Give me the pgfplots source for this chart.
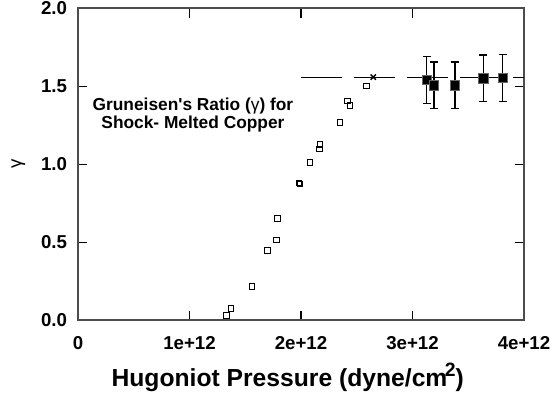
\documentclass[border=0pt]{standalone}
\usepackage{fontspec}
\setmainfont{Liberation Sans}[Ligatures=TeXOff]
\usepackage{pgfplots}
\pgfplotsset{compat=1.18}
\begin{document}
\begin{tikzpicture}
\path[use as bounding box] (-58.5pt,-58.5pt) rectangle (361.5pt,240pt);
\begin{axis}[
  at={(0,0)}, anchor=south west,
  scale only axis, width=334.5pt, height=233.8pt,
  xmin=0, xmax=4, ymin=0, ymax=2,
  xtick={0,1,2,3,4}, xticklabels={0,1e+12,2e+12,3e+12,4e+12},
  ytick={0,0.5,1,1.5,2}, yticklabels={0.0,0.5,1.0,1.5,2.0},
  tick align=inside, major tick length=7pt,
  tick style={black, line width=0.8pt},
  axis line style={black!70, line width=1.2pt},
  xticklabel style={font=\fontsize{14}{14}\selectfont\bfseries, anchor=north, inner sep=0pt, yshift=-12pt},
  yticklabel style={font=\fontsize{14}{14}\selectfont\bfseries, anchor=east, inner sep=0pt, xshift=-8pt},
  xlabel={Hugoniot Pressure (dyne/cm\kern-2pt\raisebox{7.5pt}{\fontsize{14.5}{14.5}\selectfont 2})},
  xlabel style={font=\fontsize{18.5}{18.5}\selectfont\bfseries, at={(axis description cs:0.5,0)}, anchor=base, yshift=-50pt, xshift=-10pt, inner sep=0pt},
  ylabel={γ},
  every axis y label/.style={font=\fontsize{14}{14}\selectfont, at={(axis description cs:-0.1334,0.5)}, rotate=90, anchor=center, inner sep=0pt},
  clip=false,
]
\addplot[black, line width=0.8pt, dash pattern=on 30.75pt off 9pt] coordinates {(2,1.555) (4,1.555)};
\addplot[only marks, mark=square, mark size=2.1pt, mark options={line width=0.7pt, black}] coordinates {
(1.334,0.028) (1.372,0.073) (1.561,0.214) (1.698,0.447) (1.778,0.513) (1.791,0.650)
(1.982,0.879) (1.991,0.873) (2.081,1.010) (2.164,1.096) (2.170,1.125) (2.350,1.266)
(2.415,1.404) (2.439,1.375) (2.589,1.502)};
\addplot[only marks, mark=x, mark size=2.8pt, mark options={line width=1pt, black}] coordinates {(2.648,1.558)};
\addplot[only marks, mark=square*, mark size=3.6pt, mark options={fill=black, draw=black!60, line width=0.5pt},
  error bars/.cd, y dir=both, y explicit,
  error bar style={line width=1pt, black},
  error mark options={rotate=90, mark size=3pt, line width=1pt, black}]
  coordinates {
(3.127,1.540) +- (0,0.15)
(3.193,1.505) +- (0,0.15)
(3.381,1.505) +- (0,0.15)
(3.635,1.550) +- (0,0.15)
(3.809,1.553) +- (0,0.15)};
\node[font=\fontsize{13}{13}\selectfont\bfseries, anchor=base, inner sep=0pt] at (axis cs:1.031,1.341) {Gruneisen's Ratio ({\mdseries γ}) for};
\node[font=\fontsize{13}{13}\selectfont\bfseries, anchor=base, inner sep=0pt] at (axis cs:1.031,1.226) {Shock- Melted Copper};
\end{axis}
\end{tikzpicture}
\end{document}
